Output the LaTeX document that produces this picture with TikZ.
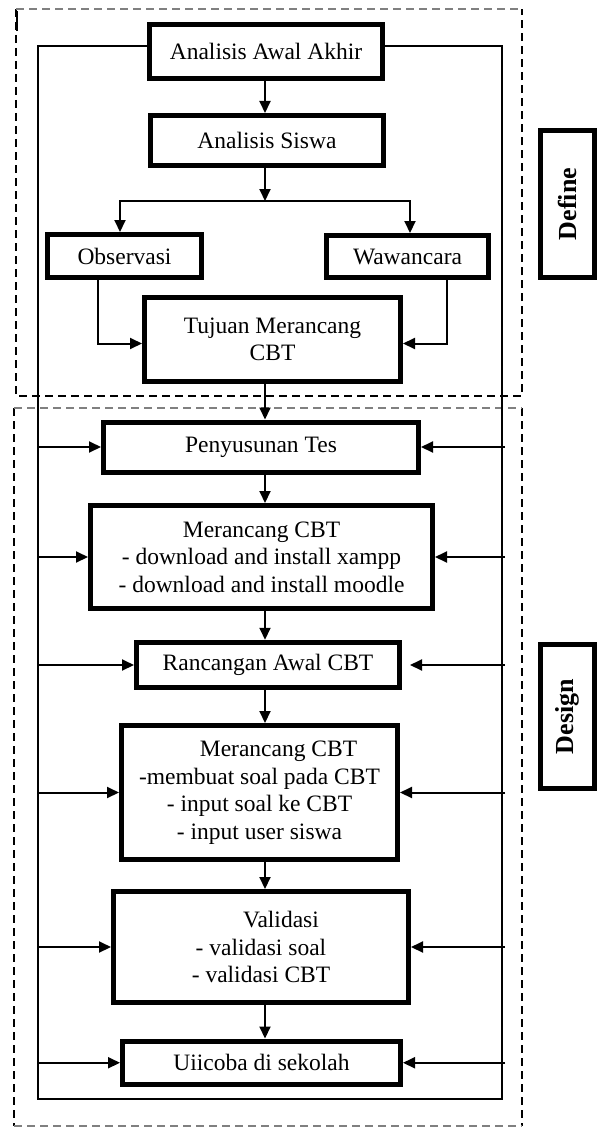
\documentclass[tikz,border=0pt]{standalone}
\usepackage{fontspec}
\setmainfont{Liberation Serif}
\usetikzlibrary{arrows.meta,calc}

\begin{document}
\begin{tikzpicture}[x=1pt,y=-1pt,
  box/.style={draw, line width=5pt, fill=white, inner sep=0pt, align=center,
    font=\fontsize{23.5}{27.5}\selectfont},
  tag/.style={draw, line width=5pt, inner sep=0pt, rotate=90,
    font=\fontsize{26}{30}\selectfont\bfseries},
  link/.style={line width=2pt},
  arr/.style={link, -{Triangle[length=12pt,width=11pt]}},
  frame/.style={line width=1.6pt, dash pattern=on 8pt off 5pt},
  framegray/.style={line width=2.4pt, gray, dash pattern=on 8pt off 5pt},
]
\useasboundingbox (0,0) rectangle (598,1129);

% phase frames
\draw[frame] (16,9) -- (16,396) -- (522,396) -- (522,9);
\draw[framegray] (16,9) -- (522,9);
\draw[line width=2.5pt] (17,11) -- (17,31);
\draw[frame] (14,408) -- (14,1126);
\draw[frame] (522,408) -- (522,1126);
\draw[framegray] (14,408) -- (522,408);
\draw[framegray] (14,1126) -- (522,1126);

% reference columns
\coordinate (col) at (265,0);
\coordinate (loopL) at (38,0);
\coordinate (loopR) at (501.5,0);
\coordinate (stubR) at (505,0);
\coordinate (loopTop) at (0,46.5);
\coordinate (loopBot) at (0,1099);
\coordinate (br) at (265,201);

% process boxes
\node[box, minimum width=233pt, minimum height=54pt]  (aaa)  at (266,51.5)   {Analisis Awal Akhir};
\node[box, minimum width=233pt, minimum height=50pt]  (as)   at (267,140.5)  {Analisis Siswa};
\node[box, minimum width=154pt, minimum height=43pt]  (obs)  at (124.5,256)  {Observasi};
\node[box, minimum width=162pt, minimum height=42pt]  (waw)  at (407.5,256.5){Wawancara};
\node[box, minimum width=256pt, minimum height=84pt]  (tuj)  at (272.5,339.5){Tujuan Merancang\\CBT};
\node[box, minimum width=315pt, minimum height=50pt]  (peny) at (261,447)    {Penyusunan Tes};
\node[box, minimum width=342pt, minimum height=103pt] (mc1)  at (261.5,557)  {Merancang CBT\\- download and install xampp\\- download and install moodle};
\node[box, minimum width=263pt, minimum height=45.5pt](ranc) at (268,665)    {Rancangan Awal CBT};
\node[box, minimum width=276pt, minimum height=134pt] (mc2)  at (259.5,792.5){\hspace*{38pt}Merancang CBT\\-membuat soal pada CBT\\- input soal ke CBT\\- input user siswa};
\node[box, minimum width=295pt, minimum height=111pt] (val)  at (261,947)    {\hspace*{40pt}Validasi\\- validasi soal\\- validasi CBT};
\node[box, minimum width=278pt, minimum height=43.5pt](uji)  at (261.5,1062.75){Uiicoba di sekolah};

% phase labels
\node[tag, minimum width=147pt, minimum height=54pt] (def) at (567.5,204)   {Define};
\node[tag, minimum width=144pt, minimum height=54pt] (des) at (567.5,716.5) {Design};

% main flow
\draw[arr] (aaa.south -| col) -- (as.north -| col);
\draw[arr] (as.south -| col) -- (br);
\draw[arr] (br) -| ([xshift=-4.5pt]obs.north);
\draw[arr] (br) -| ([xshift=2.5pt]waw.north);
\draw[arr] ([xshift=-26.2pt]obs.south) |- ([yshift=-4pt]tuj.west);
\draw[arr] ([xshift=39.5pt]waw.south) |- ([yshift=-4pt]tuj.east);
\draw[arr] (tuj.south -| col) -- (peny.north -| col);
\draw[arr] (peny.south -| col) -- (mc1.north -| col);
\draw[arr] (mc1.south -| col) -- (ranc.north -| col);
\draw[arr] (ranc.south -| col) -- (mc2.north -| col);
\draw[arr] (mc2.south -| col) -- (val.north -| col);
\draw[arr] (val.south -| col) -- (uji.north -| col);

% feedback loop around the whole process
\draw[link] (loopTop -| aaa.west) -- (loopTop -| loopL) -- (loopBot -| loopL)
  -- (loopBot -| loopR) -- (loopTop -| loopR) -- (loopTop -| aaa.east);

\foreach \n in {peny,mc1,ranc,mc2,val,uji}{
  \draw[arr] (loopL |- \n.west) -- (\n.west);
}
\foreach \n in {peny,mc1,mc2,val,uji}{
  \draw[arr] (stubR |- \n.east) -- (\n.east);
}
\draw[arr, shorten >=8pt] (stubR |- ranc.east) -- (ranc.east);
\end{tikzpicture}
\end{document}
